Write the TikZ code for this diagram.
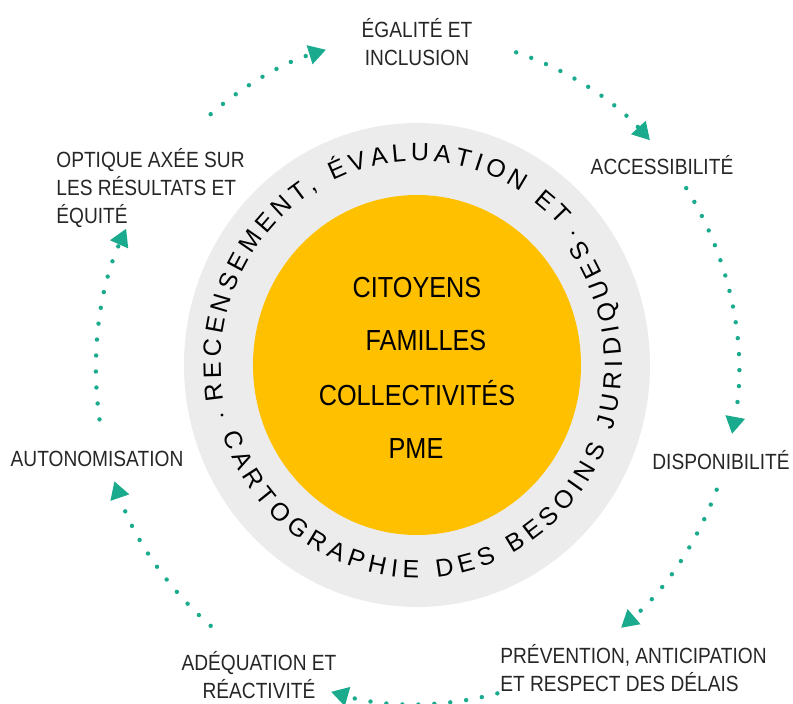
\documentclass[tikz,border=0pt]{standalone}
\usepackage{fontspec}
\setmainfont{Liberation Sans}[FakeStretch=0.87]
\newfontfamily\ringfamily{Liberation Sans}
\usetikzlibrary{arrows.meta,decorations.text}

\definecolor{cycteal}{RGB}{26,170,142}
\definecolor{hubgold}{RGB}{255,192,0}
\definecolor{ringgray}{RGB}{236,236,236}
\definecolor{labelgray}{RGB}{38,38,38}

\newcommand\ringfont{\ringfamily\fontsize{12.5}{14}\selectfont}

\begin{document}
\begin{tikzpicture}[x=0.5pt,y=0.5pt,
  lbl/.style={font=\fontsize{11}{14}\selectfont, text=labelgray, inner sep=0pt},
  hub/.style={font=\fontsize{14.5}{17}\selectfont, text=black, inner sep=0pt, anchor=base},
  cyc/.style={cycteal, line width=2.2pt, line cap=round, dash pattern=on 0pt off 8pt,
    -{Triangle[length=8.5pt,width=10pt,line width=0pt]}}]

  \useasboundingbox (-417,-338) rectangle (376,365);

  % the two discs
  \fill[ringgray] (0,0) ellipse[x radius=233, y radius=242];
  \fill[hubgold] (0,0) ellipse[x radius=164, y radius=170];

  % lettering round the grey ring
  \path[decorate, decoration={text along path, text align={fit to path},
      text={|\ringfont|RECENSEMENT, ÉVALUATION ET}}]
    (190:196 and 204) arc[start angle=190, end angle=43, x radius=196, y radius=204];
  \path[decorate, decoration={text along path, text align={fit to path},
      text={|\ringfont|CARTOGRAPHIE DES BESOINS JURIDIQUES}}]
    (199:205 and 213) arc[start angle=199, end angle=396, x radius=205, y radius=213];
  \fill (-195,-50) circle[radius=1.6];
  \fill (156,132) circle[radius=1.6];

  % who it is for
  \node[hub] (cit) at (0,68) {CITOYENS};
  \node[hub] (fam) at (9,15) {FAMILLES};
  \node[hub] (coll) at (0,-40) {COLLECTIVITÉS};
  \node[hub] (pme) at (-1,-93) {PME};

  % principles round the cycle
  \node[lbl, align=center] (equal) at (0,323) {ÉGALITÉ ET\\INCLUSION};
  \node[lbl] (access) at (245,200) {ACCESSIBILITÉ};
  \node[lbl] (dispo) at (304,-95) {DISPONIBILITÉ};
  \node[lbl, align=left, anchor=west] (prevent) at (83,-303) {PRÉVENTION, ANTICIPATION\\ET RESPECT DES DÉLAIS};
  \node[lbl, align=center] (adequ) at (-158,-310) {ADÉQUATION ET\\RÉACTIVITÉ};
  \node[lbl] (auton) at (-320,-94) {AUTONOMISATION};
  \node[lbl, align=left, anchor=west] (optique) at (-361,177) {OPTIQUE AXÉE SUR\\LES RÉSULTATS ET\\ÉQUITÉ};

  % dotted arrows between the principles
  \begin{scope}[shift={(0,-5)}]
    \foreach \s/\e [count=\i] in {130/106.5, 72/43.5, 33/-11, -21/-50.5,
                                  -75.5/-105.5, 230/199.5, 188.5/155} {
      \coordinate (c\i) at (\s:321 and 334);
      \draw[cyc] (c\i) arc[start angle=\s, end angle=\e, x radius=321, y radius=334];
    }
  \end{scope}
\end{tikzpicture}
\end{document}
